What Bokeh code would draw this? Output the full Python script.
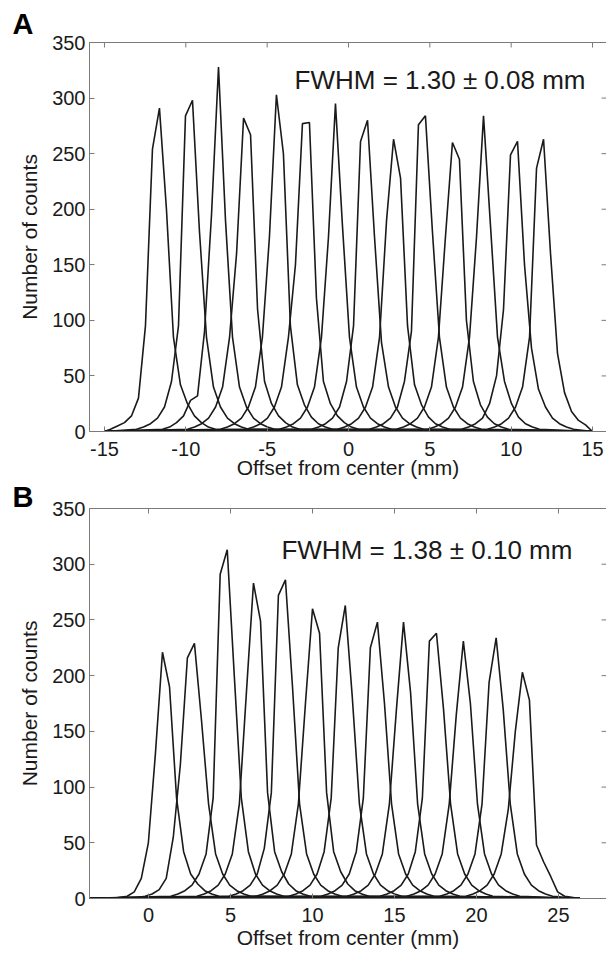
from bokeh.plotting import figure
from bokeh.models import Range1d, LinearAxis, Label, FixedTicker, ColumnDataSource
from bokeh.layouts import column
from bokeh.embed import file_html
from bokeh.resources import INLINE

# ---------------- data ----------------
BIN = 0.43  # histogram bin width (mm)

# Panel A: position of each peak's max bin (mm) and counts from bin -8 .. +8 around it
A_peak_x = [-11.62, -9.59, -7.99, -6.45, -4.43, -2.83, -0.80, 1.17, 2.77, 4.73, 6.39, 8.30, 10.39, 11.99]
A_counts = [
    [0, 2, 5, 8, 14, 30, 95, 254, 291, 200, 85, 42, 25, 14, 8, 4, 2],
    [2, 4, 7, 12, 22, 45, 95, 284, 298, 180, 85, 40, 22, 12, 7, 4, 2],
    [2, 4, 8, 14, 28, 32, 90, 195, 328, 190, 85, 40, 22, 12, 7, 4, 2],
    [2, 4, 7, 12, 22, 40, 85, 160, 282, 267, 110, 45, 25, 14, 8, 4, 2],
    [2, 4, 7, 12, 22, 40, 85, 175, 303, 250, 95, 42, 24, 13, 7, 4, 2],
    [2, 4, 7, 12, 22, 40, 85, 150, 277, 278, 120, 45, 25, 14, 8, 4, 2],
    [2, 4, 7, 12, 22, 40, 85, 175, 295, 185, 85, 40, 22, 12, 7, 4, 2],
    [2, 4, 7, 12, 22, 45, 95, 261, 280, 175, 80, 40, 22, 12, 7, 4, 2],
    [2, 4, 7, 12, 22, 40, 85, 190, 263, 228, 95, 42, 24, 13, 7, 4, 2],
    [2, 4, 7, 12, 22, 45, 90, 276, 284, 180, 85, 40, 22, 12, 7, 4, 2],
    [2, 4, 7, 12, 22, 40, 85, 175, 260, 245, 100, 45, 24, 13, 7, 4, 2],
    [2, 4, 7, 12, 22, 40, 85, 175, 284, 185, 85, 45, 25, 13, 7, 4, 2],
    [2, 4, 7, 12, 25, 50, 110, 249, 261, 150, 75, 38, 22, 12, 7, 4, 2],
    [2, 4, 7, 12, 22, 40, 85, 237, 263, 160, 70, 35, 18, 10, 6, 3, 1],
]
A_baseline = [-15.0, 15.0]
A_xticks = [-15, -10, -5, 0, 5, 10, 15]
A_text = "FWHM = 1.30 \u00b1 0.08 mm"

# Panel B
B_peak_x = [0.85, 2.80, 4.80, 6.40, 8.35, 10.00, 12.00, 13.96, 15.55, 17.56, 19.20, 21.20, 22.80]
B_counts = [
    [0, 0, 1, 2, 6, 18, 50, 130, 221, 190, 90, 42, 22, 13, 7, 4, 2],
    [1, 2, 4, 8, 18, 55, 120, 216, 229, 160, 85, 40, 22, 12, 7, 4, 2],
    [2, 4, 7, 12, 22, 40, 90, 291, 313, 200, 90, 42, 22, 12, 7, 4, 2],
    [2, 4, 7, 12, 22, 40, 85, 185, 283, 249, 95, 42, 24, 13, 7, 4, 2],
    [2, 4, 7, 12, 22, 45, 95, 272, 286, 190, 85, 40, 22, 12, 7, 4, 2],
    [2, 4, 7, 12, 22, 40, 85, 175, 260, 238, 95, 42, 24, 13, 7, 4, 2],
    [2, 4, 7, 12, 22, 42, 90, 225, 263, 180, 85, 40, 22, 12, 7, 4, 2],
    [2, 4, 7, 12, 22, 42, 90, 225, 248, 175, 85, 40, 22, 12, 7, 4, 2],
    [2, 4, 7, 12, 22, 40, 85, 170, 248, 185, 85, 40, 22, 12, 7, 4, 2],
    [2, 4, 7, 12, 22, 42, 90, 231, 238, 170, 85, 40, 22, 12, 7, 4, 2],
    [2, 4, 7, 12, 22, 40, 85, 165, 231, 175, 85, 40, 22, 12, 7, 4, 2],
    [2, 4, 7, 12, 22, 40, 85, 194, 234, 170, 85, 40, 22, 12, 7, 4, 2],
    [2, 4, 7, 12, 22, 40, 80, 150, 203, 178, 48, 33, 20, 6, 2, 1, 0],
]
B_baseline = [-4.0, 26.3]
B_xticks = [0, 5, 10, 15, 20, 25]
B_text = "FWHM = 1.38 \u00b1 0.10 mm"

Y_TICKS = [0, 50, 100, 150, 200, 250, 300, 350]

FONT = "Liberation Sans"
INK = "#1a1a1a"
AXC = "#7a7a7a"


def curves(peaks, counts, base):
    xs, ys = [], []
    for px, cnt in zip(peaks, counts):
        cx = [base[0]]
        cy = [0]
        for k, c in enumerate(cnt):
            xv = px + BIN * (k - 8)
            if base[0] < xv < base[1]:
                cx.append(xv)
                cy.append(c)
        cx.append(base[1])
        cy.append(0)
        xs.append(cx)
        ys.append(cy)
    return xs, ys


def panel(letter, title_standoff, peaks, counts, base, xticks, xr, text, text_xy,
          frame_h, top_border, bottom_border, tick_standoff, label_standoff):
    FW = 517
    p = figure(frame_width=FW, frame_height=frame_h, x_range=Range1d(*xr), y_range=Range1d(0, 350),
               output_backend="svg", toolbar_location=None,
               min_border_left=89, min_border_right=0, min_border_top=top_border,
               min_border_bottom=bottom_border)
    p.outline_line_color = None
    p.grid.visible = False
    p.background_fill_color = "white"
    p.border_fill_color = "white"

    p.title.text = letter
    p.title.text_font = FONT
    p.title.text_font_style = "bold"
    p.title.text_font_size = "29px"
    p.title.text_color = "black"
    p.title.align = "left"
    p.title.offset = -77
    p.title.standoff = title_standoff

    for ax in (p.xaxis[0], p.yaxis[0]):
        ax.axis_line_color = AXC
        ax.major_tick_line_color = AXC
        ax.major_tick_in = 5
        ax.major_tick_out = 0
        ax.minor_tick_line_color = None
        ax.minor_tick_out = 0
        ax.major_label_text_font = FONT
        ax.major_label_text_font_size = "20px"
        ax.major_label_text_color = INK
        ax.axis_label_text_font = FONT
        ax.axis_label_text_font_size = "21px"
        ax.axis_label_text_font_style = "normal"
        ax.axis_label_text_color = INK
    p.xaxis.ticker = FixedTicker(ticks=xticks)
    p.xaxis.major_label_overrides = {t: str(t) for t in xticks}
    p.yaxis.ticker = FixedTicker(ticks=Y_TICKS)
    p.xaxis.axis_label = "Offset from center (mm)"
    p.yaxis.axis_label = "Number of counts"
    p.xaxis.major_label_standoff = tick_standoff
    p.xaxis.axis_label_standoff = label_standoff
    p.yaxis.major_label_standoff = 4
    p.yaxis.axis_label_standoff = 8

    # top frame line (no labels)
    top = LinearAxis(ticker=FixedTicker(ticks=[]), axis_line_color=AXC,
                     major_tick_line_color=None, minor_tick_line_color=None,
                     major_tick_out=0, minor_tick_out=0, major_label_standoff=0)
    p.add_layout(top, "above")

    # inward tick marks on the top and right edges of the frame
    sx = FW / (xr[1] - xr[0])
    sy = frame_h / 350.0
    p.segment(x0=xticks, y0=[350] * len(xticks), x1=xticks, y1=[350 - 5 / sy] * len(xticks),
              line_color=AXC, line_width=1)
    p.segment(x0=[xr[1]] * len(Y_TICKS), y0=Y_TICKS, x1=[xr[1] - 5 / sx] * len(Y_TICKS), y1=Y_TICKS,
              line_color=AXC, line_width=1)

    xs, ys = curves(peaks, counts, base)
    p.multi_line(xs="xs", ys="ys", source=ColumnDataSource(dict(xs=xs, ys=ys)),
                 line_color=INK, line_width=1.6)

    p.add_layout(Label(x=text_xy[0], y=text_xy[1], text=text, text_align="right",
                       text_baseline="alphabetic", text_font=FONT, text_font_size="26px",
                       text_color=INK))
    return p


p1 = panel("A", 6, A_peak_x, A_counts, A_baseline, A_xticks, (-15.92, 15.86),
           A_text, (14.57, 316), 389, 42, 48, 10, -3)
p2 = panel("B", -8, B_peak_x, B_counts, B_baseline, B_xticks, (-3.6, 27.93),
           B_text, (25.85, 313), 390, 27, 52, 9, 1)

layout = column(p1, p2, spacing=0)
open("out.html", "w").write(file_html(layout, INLINE))
